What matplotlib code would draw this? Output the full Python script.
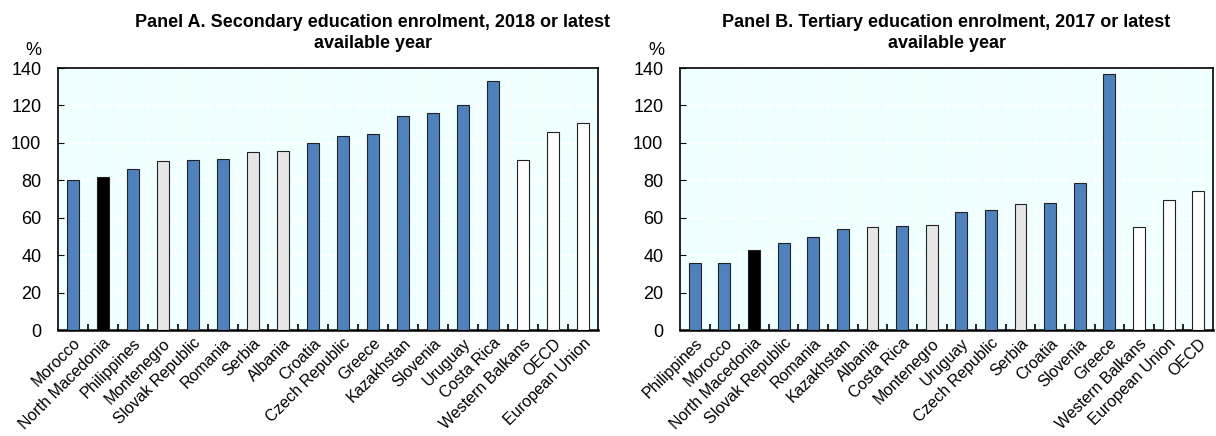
import matplotlib.pyplot as plt
import numpy as np
from matplotlib import font_manager

names = {f.name for f in font_manager.fontManager.ttflist}
fam = 'Liberation Sans Narrow' if 'Liberation Sans Narrow' in names else 'Liberation Sans'
plt.rcParams['font.family'] = [fam, 'DejaVu Sans']

blue = '#4F81BD'
grey = '#E6E6E6'
black = '#000000'
white = '#FFFFFF'

# Panel A: secondary enrolment
cats_a = ['Morocco', 'North Macedonia', 'Philippines', 'Montenegro', 'Slovak Republic',
          'Romania', 'Serbia', 'Albania', 'Croatia', 'Czech Republic', 'Greece',
          'Kazakhstan', 'Slovenia', 'Uruguay', 'Costa Rica', 'Western Balkans',
          'OECD', 'European Union']
vals_a = [80.3, 81.7, 86.1, 90.1, 91.1, 91.3, 95.2, 95.6, 99.7, 103.6, 104.7,
          114.3, 115.7, 120.4, 133.0, 90.6, 105.8, 110.8]
cols_a = [blue, black, blue, grey, blue, blue, grey, grey, blue, blue, blue,
          blue, blue, blue, blue, white, white, white]

# Panel B: tertiary enrolment
cats_b = ['Philippines', 'Morocco', 'North Macedonia', 'Slovak Republic', 'Romania',
          'Kazakhstan', 'Albania', 'Costa Rica', 'Montenegro', 'Uruguay',
          'Czech Republic', 'Serbia', 'Croatia', 'Slovenia', 'Greece',
          'Western Balkans', 'European Union', 'OECD']
vals_b = [35.7, 36.0, 42.8, 46.7, 49.6, 54.2, 55.1, 55.5, 56.2, 63.3, 64.2,
          67.4, 68.1, 78.7, 136.6, 55.3, 69.6, 74.4]
cols_b = [blue, blue, black, blue, blue, blue, grey, blue, grey, blue, blue,
          grey, blue, blue, blue, white, white, white]

W, H = 1216, 436
fig = plt.figure(figsize=(W/100, H/100), dpi=100)

def panel(rect, cats, vals, cols, title, tx):
    ax = fig.add_axes(rect)
    ax.set_facecolor('#F0FFFF')
    n = len(cats)
    x = np.arange(n)
    ax.bar(x, vals, width=0.4, color=cols, edgecolor='#222222', linewidth=0.8, zorder=3)
    ax.set_xlim(-0.5, n - 0.5)
    ax.set_ylim(0, 140)
    ax.set_yticks(range(0, 141, 20))
    ax.tick_params(axis='y', direction='in', length=4, labelsize=13, pad=12)
    ax.set_xticks(x)
    ax.set_xticklabels(cats, rotation=45, ha='right', rotation_mode='anchor', fontsize=11.5)
    ax.tick_params(axis='x', length=0, pad=4)
    ax.set_xticks(np.arange(0.5, n - 0.5, 1), minor=True)
    ax.tick_params(axis='x', which='minor', direction='in', length=4, width=1.2)
    for b in np.arange(0.5, n - 0.5, 1):
        ax.axvline(b, color='white', lw=1, zorder=1)
    for t in range(20, 141, 20):
        ax.axhline(t, color='white', lw=1, zorder=1)
    for s in ax.spines.values():
        s.set_color('black')
        s.set_linewidth(1.2)
    ax.spines['bottom'].set_linewidth(1.8)
    ax.text(-0.045, 1.035, '%', transform=ax.transAxes, fontsize=13, ha='center', va='bottom')
    ax.text(tx, 1.06, title, transform=ax.transAxes, fontsize=13, fontweight='bold',
            ha='center', va='bottom', linespacing=1.35)
    return ax

panel([58/W, 106/H, 540/W, 262/H], cats_a, vals_a, cols_a,
      'Panel A. Secondary education enrolment, 2018 or latest\navailable year', 0.583)
panel([680/W, 106/H, 533/W, 262/H], cats_b, vals_b, cols_b,
      'Panel B. Tertiary education enrolment, 2017 or latest\navailable year', 0.5)

fig.savefig('out.png', dpi=100)
